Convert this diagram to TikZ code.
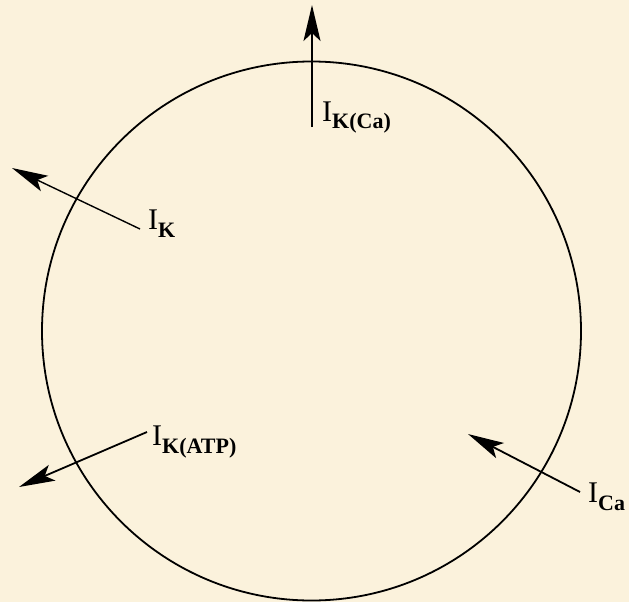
\documentclass[tikz,border=0pt]{standalone}
\usepackage{fontspec}
\setmainfont{Liberation Serif}
\usetikzlibrary{arrows.meta}
\definecolor{parch}{RGB}{251,242,220}
\newcommand{\curlab}[1]{I\raisebox{-8pt}{\fontsize{22}{22}\selectfont\bfseries #1}}
\tikzset{
  flux/.style={draw=black, line width=1.8pt, -{Stealth[length=36pt, width=17pt, inset=8pt]}},
  lab/.style={anchor=base west, inner sep=0pt, font=\fontsize{30}{30}\selectfont}
}
\begin{document}
\begin{tikzpicture}[x=1pt,y=-1pt]
\fill[parch] (0,0) rectangle (629,602);
\useasboundingbox (0,0) rectangle (629,602);
\node[circle, draw=black, line width=1.8pt, minimum size=539pt, inner sep=0pt] (cell) at (311.5,331) {};
% tails and tips
\coordinate (kcaT) at (312,127);
\coordinate (kcaH) at (312,5);
\coordinate (kT) at (140,229);
\coordinate (kH) at (12,168);
\coordinate (katpT) at (147,432);
\coordinate (katpH) at (19,487);
\coordinate (caT) at (580,492);
\coordinate (caH) at (468,434);
\draw[flux] (kcaT) -- (kcaH);
\draw[flux, line width=1.4pt] (kT) -- (kH);
\draw[flux] (katpT) -- (katpH);
\draw[flux] (caT) -- (caH);
% labels
\node[lab] (lkca) at (322,121) {\curlab{K(Ca)}};
\node[lab] (lk) at (148,229) {\curlab{K}};
\node[lab] (lkatp) at (152,445) {\curlab{K(ATP)}};
\node[lab] (lca) at (588,502) {\curlab{Ca}};
\end{tikzpicture}
\end{document}
